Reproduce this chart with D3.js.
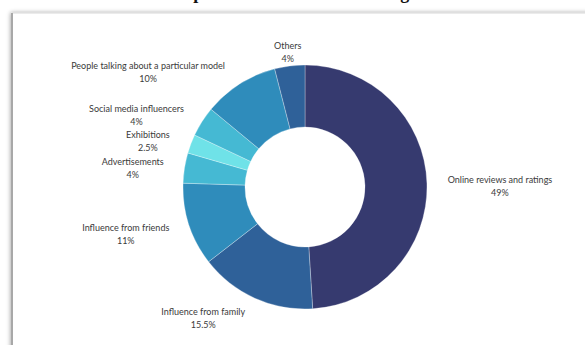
<!DOCTYPE html>
<html>
<head>
<meta charset="UTF-8">
<title>Donut</title>
<script src="https://d3js.org/d3.v7.min.js"></script>
<style>
  body { margin: 0; background: #fff; }
  svg { display: block; }
  .lbl { font-family: Lato, "Open Sans", sans-serif; font-size: 9px; fill: #3a3a3a; }
  .title { font-family: "Liberation Serif", "DejaVu Serif", serif; font-weight: bold; font-size: 18px; fill: #111; }
</style>
</head>
<body>
<script>
// data
var categories = ["Online reviews and ratings", "Influence from family", "Influence from friends",
                  "Advertisements", "Exhibitions", "Social media influencers",
                  "People talking about a particular model", "Others"];
var values = [49, 15.5, 11, 4, 2.5, 4, 10, 4];
var valueLabels = ["49%", "15.5%", "11%", "4%", "2.5%", "4%", "10%", "4%"];
var colors = ["#363a6f", "#2f6199", "#2f8cbb", "#45b9d3", "#6fe2e8", "#45b9d3", "#2f8cbb", "#2f6199"];
// horizontal / vertical nudges of each label from the label arc
var labelNudge = [[57, 3], [-45, 5], [-48, 4], [-36, 3], [-28, 3], [-52, 2], [-83, 2], [0, 2]];

var W = 585, H = 345;
var cx = 305, cy = 187, rOut = 122, rIn = 60, rLabel = 138;

var svg = d3.select("body").append("svg")
    .attr("width", W)
    .attr("height", H);

var defs = svg.append("defs");
var f = defs.append("filter").attr("id", "shadow")
    .attr("x", "-5%").attr("y", "-5%").attr("width", "110%").attr("height", "110%");
f.append("feDropShadow").attr("dx", -1).attr("dy", 0).attr("stdDeviation", 2)
    .attr("flood-color", "#000").attr("flood-opacity", 0.35);

// title of the page, mostly cropped off above the frame
svg.append("text")
    .attr("class", "title")
    .attr("x", 174)
    .attr("y", -1)
    .text("Top factors in decision making");

// framed picture
svg.append("rect")
    .attr("x", 12).attr("y", 13)
    .attr("width", 640).attr("height", 400)
    .attr("fill", "#fff")
    .attr("stroke", "#d8d8d8")
    .attr("filter", "url(#shadow)");
svg.append("line")
    .attr("x1", 12).attr("x2", 12).attr("y1", 13).attr("y2", H)
    .attr("stroke", "#a8a8a8").attr("stroke-width", 2);

var pie = d3.pie().sort(null).value(function (d) { return d; });
var arcs = pie(values);
var arc = d3.arc().innerRadius(rIn).outerRadius(rOut);
var labelArc = d3.arc().innerRadius(rLabel).outerRadius(rLabel);

var g = svg.append("g").attr("transform", "translate(" + cx + "," + cy + ")");

g.selectAll("path.slice")
    .data(arcs)
    .enter().append("path")
    .attr("class", "slice")
    .attr("d", arc)
    .attr("fill", function (d, i) { return colors[i]; })
    .attr("stroke", "#fff")
    .attr("stroke-width", 0.3);

var lab = g.selectAll("text.lbl")
    .data(arcs)
    .enter().append("text")
    .attr("class", "lbl")
    .attr("text-anchor", "middle")
    .attr("transform", function (d, i) {
        var c = labelArc.centroid(d);
        return "translate(" + (c[0] + labelNudge[i][0]) + "," + (c[1] + labelNudge[i][1]) + ")";
    });
lab.append("tspan").attr("x", 0).attr("y", -3).text(function (d, i) { return categories[i]; });
lab.append("tspan").attr("x", 0).attr("y", 10).text(function (d, i) { return valueLabels[i]; });
</script>
</body>
</html>
